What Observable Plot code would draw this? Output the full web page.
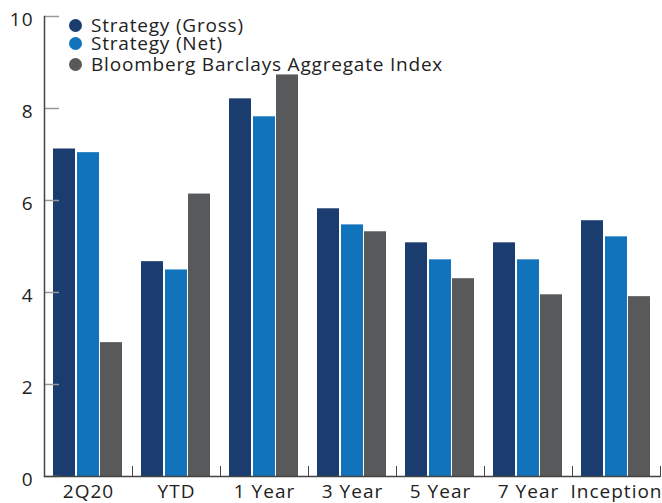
<!DOCTYPE html>
<html>
<head>
<meta charset="utf-8">
<script src="https://cdn.jsdelivr.net/npm/d3@7"></script>
<script src="https://cdn.jsdelivr.net/npm/@observablehq/plot@0.6"></script>
<style>
  html, body { margin: 0; padding: 0; background: #fff; }
  #wrap { position: relative; width: 662px; height: 503px; font-family: "Open Sans", sans-serif; }
  #legend { position: absolute; left: 69px; top: 0; color: #222; font-size: 19px; letter-spacing: 0.8px; line-height: 16px; }
  .item { position: absolute; left: 0; white-space: nowrap; display: flex; align-items: center; height: 16px; }
  .sw { width: 13px; height: 13px; border-radius: 50%; margin-right: 9px; flex: none; }
  svg text { letter-spacing: 1px; }
</style>
</head>
<body>
<div id="wrap"></div>
<script>
const categories = ["2Q20", "YTD", "1 Year", "3 Year", "5 Year", "7 Year", "Inception"];
const seriesNames = ["Strategy (Gross)", "Strategy (Net)", "Bloomberg Barclays Aggregate Index"];
const gross = [7.12, 4.67, 8.21, 5.82, 5.08, 5.08, 5.56];
const net   = [7.04, 4.49, 7.82, 5.47, 4.71, 4.71, 5.21];
const index = [2.91, 6.14, 8.73, 5.32, 4.30, 3.95, 3.91];
const yTicks = [0, 2, 4, 6, 8, 10];
const colors = ["#1a3c6e", "#1173bb", "#58595b"];

const seriesValues = [gross, net, index];
const rows = seriesNames.map((s, i) => categories.map((c, j) => ({cat: c, series: s, value: seriesValues[i][j]})));
const insets = [[9, 57], [33, 33], [56, 10]];

const plot = Plot.plot({
  width: 662,
  height: 503,
  marginLeft: 44,
  marginRight: 2,
  marginTop: 16,
  marginBottom: 27,
  style: {fontFamily: "Open Sans, sans-serif", fontSize: "19px", color: "#222", background: "#fff"},
  x: {domain: categories, padding: 0, label: null},
  y: {domain: [0, 10], label: null},
  marks: [
    ...rows.map((r, i) => Plot.barY(r, {x: "cat", y: "value", fill: colors[i], insetLeft: insets[i][0], insetRight: insets[i][1]})),
    Plot.axisY({ticks: yTicks, tickSize: 0, tickPadding: 11, dy: 3, label: null, fill: "#222", fontSize: 19}),
    Plot.axisY({ticks: yTicks, anchor: "right", frameAnchor: "left", tickSize: 14, text: null, label: null, stroke: "#999", strokeWidth: 1.5}),
    Plot.axisX({tickSize: 0, tickPadding: 8, label: null, fill: "#222", fontSize: 19}),
    Plot.axisX({anchor: "top", frameAnchor: "bottom", tickSize: 11, text: null, label: null, dx: 44, stroke: "#444"}),
    Plot.frame({anchor: "left", stroke: "#444", strokeWidth: 1.5}),
    Plot.ruleY([0], {stroke: "#444", strokeWidth: 1.5})
  ]
});

const wrap = document.getElementById("wrap");
wrap.appendChild(plot);

const legend = document.createElement("div");
legend.id = "legend";
const rowY = [25, 43, 64];
seriesNames.forEach((s, i) => {
  const it = document.createElement("div");
  it.className = "item";
  it.style.top = (rowY[i] - 8) + "px";
  const sw = document.createElement("span");
  sw.className = "sw";
  sw.style.background = colors[i];
  const t = document.createElement("span");
  t.textContent = s;
  it.appendChild(sw);
  it.appendChild(t);
  legend.appendChild(it);
});
wrap.appendChild(legend);
</script>
</body>
</html>
